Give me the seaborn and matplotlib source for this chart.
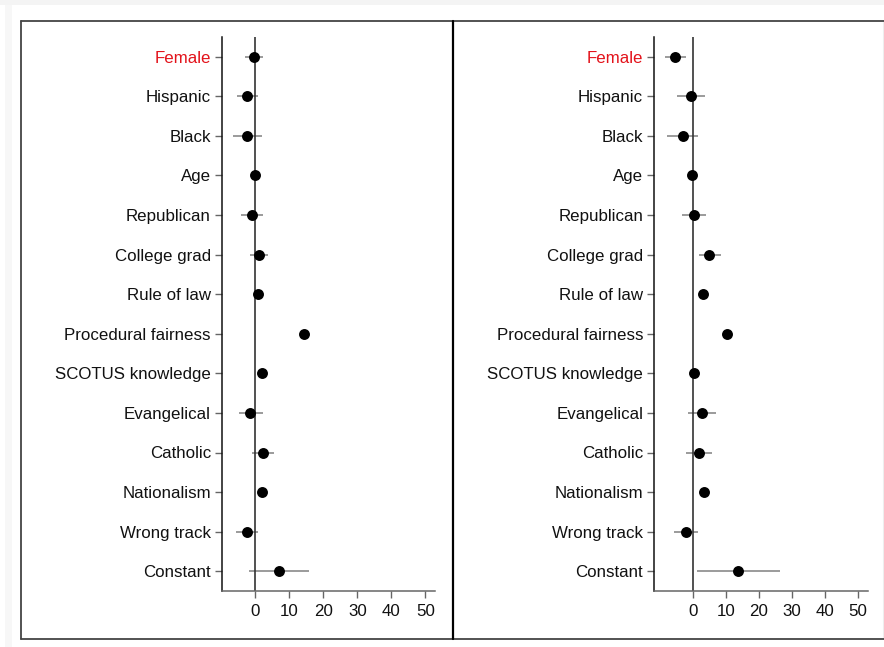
import numpy as np
import pandas as pd
import matplotlib
matplotlib.use("Agg")
import matplotlib.pyplot as plt
from matplotlib.lines import Line2D
import seaborn as sns

variables = ["Female", "Hispanic", "Black", "Age", "Republican", "College grad",
             "Rule of law", "Procedural fairness", "SCOTUS knowledge", "Evangelical",
             "Catholic", "Nationalism", "Wrong track", "Constant"]

# left model
coef_left = [-0.4, -2.5, -2.5, 0.0, -1.0, 1.1, 0.8, 14.4, 1.8, -1.5, 2.3, 2.0, -2.5, 6.9]
lo_left = [-3.1, -5.5, -6.7, -0.3, -4.2, -1.5, 0.3, 13.6, 1.3, -4.9, -0.9, 1.5, -5.6, -1.8]
hi_left = [2.1, 0.6, 1.8, 0.3, 2.2, 3.8, 1.3, 15.2, 2.3, 2.2, 5.4, 2.5, 0.6, 15.6]

# right model
coef_right = [-5.2, -0.6, -3.0, -0.1, 0.4, 5.1, 3.2, 10.5, 0.4, 2.8, 1.9, 3.4, -2.0, 13.8]
lo_right = [-8.3, -4.7, -7.7, -0.4, -3.3, 1.9, 2.6, 9.4, -0.1, -1.3, -1.9, 2.8, -5.6, 1.2]
hi_right = [-2.1, 3.7, 1.6, 0.2, 4.1, 8.6, 3.8, 11.6, 0.9, 7.0, 5.8, 4.0, 1.5, 26.4]

xticks = [0, 10, 20, 30, 40, 50]

sns.set_style("white")
plt.rcParams["font.family"] = ["Liberation Sans", "DejaVu Sans"]

W, H = 884, 647
fig = plt.figure(figsize=(W / 100, H / 100), dpi=100)
fig.patch.set_facecolor("white")


def px_box(x0, x1, y0, y1):
    return [x0 / W, 1 - y1 / H, (x1 - x0) / W, (y1 - y0) / H]


panels = [
    (coef_left, lo_left, hi_left, px_box(222, 435.3, 37, 591), (-9.85, 52.9)),
    (coef_right, lo_right, hi_right, px_box(654.3, 867.7, 37, 591), (-11.6, 53.0)),
]

for coef, lo, hi, box, xlim in panels:
    ax = fig.add_axes(box)
    df = pd.DataFrame({"var": variables, "pos": np.arange(len(variables)),
                       "coef": coef, "lo": lo, "hi": hi})
    ax.hlines(df["pos"], df["lo"], df["hi"], color="#808080", lw=1.1, zorder=1)
    ax.axvline(0, color="#333333", lw=1.2, zorder=2)
    sns.scatterplot(data=df, x="coef", y="pos", ax=ax, color="black", s=62,
                    edgecolor="black", linewidth=0, zorder=3, legend=False)
    ax.set_xlim(*xlim)
    ax.set_ylim(len(variables) - 0.5, -0.5)
    ax.set_yticks(df["pos"])
    ax.set_yticklabels(variables)
    ax.set_xticks(xticks)
    ax.set_xlabel("")
    ax.set_ylabel("")
    ax.tick_params(axis="y", length=5, width=1, color="#666666", pad=3,
                   labelsize=12.2, labelcolor="#111111", left=True)
    ax.tick_params(axis="x", length=5, width=1, color="#666666", pad=4,
                   labelsize=12.2, labelcolor="#111111", bottom=True)
    ax.get_yticklabels()[0].set_color("#e3131b")
    for side in ["top", "right"]:
        ax.spines[side].set_visible(False)
    ax.spines["left"].set_color("#111111")
    ax.spines["left"].set_linewidth(1.1)
    ax.spines["bottom"].set_color("#666666")
    ax.spines["bottom"].set_linewidth(1.1)
    ax.set_facecolor("white")

# outer frame and divider
def fline(xs, ys, **kw):
    fig.add_artist(Line2D([x / W for x in xs], [1 - y / H for y in ys],
                          transform=fig.transFigure, **kw))

fig.add_artist(plt.Rectangle((0, 1 - 5 / H), 1, 5 / H, transform=fig.transFigure,
                             color="#f4f4f4", lw=0))
fig.add_artist(plt.Rectangle((5 / W, 0), 7 / W, 1 - 5 / H, transform=fig.transFigure,
                             color="#f7f7f7", lw=0))
fline([20.7, 884], [20.7, 20.7], color="#444444", lw=1.3)
fline([20.7, 20.7], [20.7, 638.7], color="#444444", lw=1.3)
fline([20.7, 884], [638.7, 638.7], color="#444444", lw=1.3)
fline([453, 453], [20.7, 638.7], color="black", lw=1.6)
fline([882.5, 882.5], [22, 637], color="#eeeeee", lw=0.8)

fig.savefig("out.png", dpi=100)
